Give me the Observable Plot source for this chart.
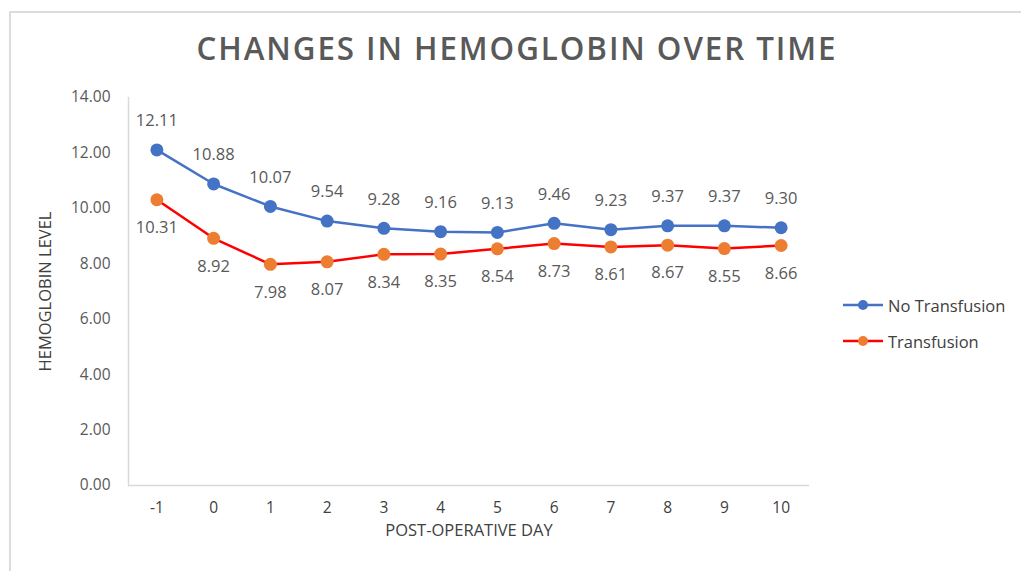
<!DOCTYPE html>
<html>
<head>
<meta charset="utf-8">
<script src="https://cdn.jsdelivr.net/npm/d3@7"></script>
<script src="https://cdn.jsdelivr.net/npm/@observablehq/plot@0.6"></script>
<style>
  html, body { margin: 0; padding: 0; background: #fff; }
  #wrap { position: relative; width: 1021px; height: 571px; overflow: hidden; font-family: "Open Sans", sans-serif; }
  #frame { position: absolute; left: 9px; top: 11px; width: 1100px; height: 700px; border-top: 2px solid #dcdcdc; border-left: 2px solid #dcdcdc; }
  #title { position: absolute; left: 517px; top: 25px; white-space: nowrap; font-size: 32.5px; font-weight: 600; letter-spacing: 2px; color: #595959; transform-origin: 0 0; }
  #chart { position: absolute; left: 0; top: 0; }
  .leg { position: absolute; left: 842px; display: flex; align-items: center; font-size: 16.5px; color: #404040; }
  .leg svg { margin-right: 4px; }
</style>
</head>
<body>
<div id="wrap">
  <div id="frame"></div>
  <div id="chart"></div>
  <div id="title">CHANGES IN HEMOGLOBIN OVER TIME</div>
  <div id="legend"></div>
</div>
<script>
const days = [-1, 0, 1, 2, 3, 4, 5, 6, 7, 8, 9, 10];
const noTransfusion = [12.11, 10.88, 10.07, 9.54, 9.28, 9.16, 9.13, 9.46, 9.23, 9.37, 9.37, 9.30];
const transfusion = [10.31, 8.92, 7.98, 8.07, 8.34, 8.35, 8.54, 8.73, 8.61, 8.67, 8.55, 8.66];
const seriesNames = ["No Transfusion", "Transfusion"];
const lineColors = ["#4472C4", "#FF0000"];
const markerColors = ["#4472C4", "#ED7D31"];
const yTicks = [0, 2, 4, 6, 8, 10, 12, 14];

const rows = [];
days.forEach((d, i) => {
  rows.push({day: String(d), value: noTransfusion[i], series: seriesNames[0]});
  rows.push({day: String(d), value: transfusion[i], series: seriesNames[1]});
});
const blue = rows.filter(r => r.series === seriesNames[0]);
const orange = rows.filter(r => r.series === seriesNames[1]);

const W = 1021, H = 571;
const chart = Plot.plot({
  width: W,
  height: H,
  marginLeft: 128,
  marginRight: 212,
  marginTop: 97,
  marginBottom: 86,
  style: {fontFamily: "'Open Sans', sans-serif", fontSize: "16px", color: "#595959", background: "transparent"},
  x: {type: "point", domain: days.map(String), padding: 0.5, round: false, align: 0.5},
  y: {domain: [0, 14]},
  marks: [
    Plot.ruleY([0], {stroke: "#d9d9d9", strokeWidth: 1.5}),
    Plot.frame({anchor: "left", stroke: "#d9d9d9", strokeWidth: 1.5}),
    Plot.axisY(yTicks, {tickSize: 0, tickPadding: 18, tickFormat: d => d.toFixed(2), fontSize: 15.5, label: null, fill: "#595959"}),
    Plot.axisX({tickSize: 0, tickPadding: 16, fontSize: 15.5, label: null, fill: "#404040"}),
    Plot.lineY(blue, {x: "day", y: "value", stroke: lineColors[0], strokeWidth: 2.5}),
    Plot.lineY(orange, {x: "day", y: "value", stroke: lineColors[1], strokeWidth: 2.5}),
    Plot.dot(blue, {x: "day", y: "value", r: 6.5, fill: markerColors[0]}),
    Plot.dot(orange, {x: "day", y: "value", r: 6.5, fill: markerColors[1]}),
    Plot.text(blue, {x: "day", y: "value", text: d => d.value.toFixed(2), dy: -29, fontSize: 16.5, fill: "#595959"}),
    Plot.text(orange, {x: "day", y: "value", text: d => d.value.toFixed(2), dy: 28, fontSize: 16.5, fill: "#595959"}),
    Plot.text(["POST-OPERATIVE DAY"], {frameAnchor: "bottom", dy: 50, fontSize: 16.5, fill: "#404040"}),
    Plot.text(["HEMOGLOBIN LEVEL"], {frameAnchor: "left", textAnchor: "middle", dx: -83, rotate: -90, fontSize: 16.5, fill: "#404040"})
  ]
});
document.getElementById("chart").appendChild(chart);

// title: fit to reference width (641px), centered at x=517
const title = document.getElementById("title");
const tw = title.getBoundingClientRect().width;
const s = 641 / tw;
title.style.transform = `scale(${s}, 1) translateX(-50%)`;

const legend = document.getElementById("legend");
const legTops = [293, 329];
seriesNames.forEach((name, i) => {
  const div = document.createElement("div");
  div.className = "leg";
  div.style.top = legTops[i] + "px";
  div.innerHTML = `<svg width="42" height="24"><line x1="1" x2="41" y1="12" y2="12" stroke="${lineColors[i]}" stroke-width="2.5"/><circle cx="21" cy="12" r="5" fill="${markerColors[i]}"/></svg><span>${name}</span>`;
  legend.appendChild(div);
});
</script>
</body>
</html>
